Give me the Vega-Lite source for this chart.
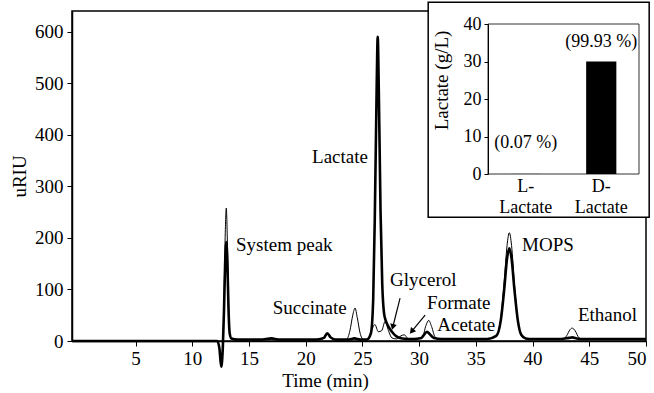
{
  "$schema": "https://vega.github.io/schema/vega-lite/v6.json",
  "width": 574,
  "height": 330,
  "autosize": {"type": "none"},
  "padding": {"left": 72, "top": 11, "right": 8, "bottom": 52},
  "background": "white",
  "config": {
    "font": "Times New Roman, Liberation Serif, DejaVu Serif, serif",
    "view": {"stroke": "black", "strokeWidth": 1.5},
    "axis": {
      "grid": false,
      "domainColor": "black",
      "domainWidth": 1.5,
      "tickColor": "black",
      "tickWidth": 1,
      "labelColor": "black",
      "titleColor": "black",
      "labelFont": "Times New Roman, Liberation Serif, DejaVu Serif, serif",
      "titleFont": "Times New Roman, Liberation Serif, DejaVu Serif, serif",
      "titleFontWeight": "normal"
    },
    "text": {"font": "Times New Roman, Liberation Serif, DejaVu Serif, serif", "color": "black"}
  },
  "datasets": {
    "chrom": [
      {"s": "k", "t": -0.6, "v": 0}, {"s": "k", "t": 5, "v": 0}, {"s": "k", "t": 10, "v": 0}, {"s": "k", "t": 12.2, "v": 0},
      {"s": "k", "t": 12.4, "v": -15}, {"s": "k", "t": 12.55, "v": -50}, {"s": "k", "t": 12.7, "v": -10},
      {"s": "k", "t": 12.8, "v": 60}, {"s": "k", "t": 12.9, "v": 150}, {"s": "k", "t": 13.0, "v": 192},
      {"s": "k", "t": 13.1, "v": 150}, {"s": "k", "t": 13.2, "v": 60}, {"s": "k", "t": 13.3, "v": 15},
      {"s": "k", "t": 13.45, "v": 5}, {"s": "k", "t": 14, "v": 3}, {"s": "k", "t": 16, "v": 3},
      {"s": "k", "t": 17, "v": 5}, {"s": "k", "t": 17.6, "v": 3}, {"s": "k", "t": 21, "v": 3},
      {"s": "k", "t": 21.6, "v": 6}, {"s": "k", "t": 21.9, "v": 15}, {"s": "k", "t": 22.2, "v": 7},
      {"s": "k", "t": 22.6, "v": 3}, {"s": "k", "t": 23.8, "v": 3}, {"s": "k", "t": 24.3, "v": 5},
      {"s": "k", "t": 24.8, "v": 3}, {"s": "k", "t": 25.4, "v": 3}, {"s": "k", "t": 25.75, "v": 15},
      {"s": "k", "t": 25.95, "v": 80}, {"s": "k", "t": 26.1, "v": 250}, {"s": "k", "t": 26.25, "v": 480},
      {"s": "k", "t": 26.35, "v": 590}, {"s": "k", "t": 26.45, "v": 480}, {"s": "k", "t": 26.6, "v": 250},
      {"s": "k", "t": 26.75, "v": 110}, {"s": "k", "t": 26.9, "v": 55}, {"s": "k", "t": 27.05, "v": 40},
      {"s": "k", "t": 27.3, "v": 28}, {"s": "k", "t": 27.6, "v": 18}, {"s": "k", "t": 28.0, "v": 9},
      {"s": "k", "t": 28.5, "v": 5}, {"s": "k", "t": 29.5, "v": 4}, {"s": "k", "t": 30.2, "v": 6},
      {"s": "k", "t": 30.5, "v": 14}, {"s": "k", "t": 30.7, "v": 18}, {"s": "k", "t": 30.9, "v": 14},
      {"s": "k", "t": 31.3, "v": 6}, {"s": "k", "t": 32, "v": 4}, {"s": "k", "t": 36, "v": 4},
      {"s": "k", "t": 36.8, "v": 10}, {"s": "k", "t": 37.2, "v": 40}, {"s": "k", "t": 37.5, "v": 100},
      {"s": "k", "t": 37.75, "v": 160}, {"s": "k", "t": 37.95, "v": 180}, {"s": "k", "t": 38.15, "v": 160},
      {"s": "k", "t": 38.4, "v": 100}, {"s": "k", "t": 38.7, "v": 40}, {"s": "k", "t": 39.0, "v": 12},
      {"s": "k", "t": 39.4, "v": 5}, {"s": "k", "t": 40, "v": 4}, {"s": "k", "t": 42.5, "v": 4},
      {"s": "k", "t": 43.2, "v": 6}, {"s": "k", "t": 43.5, "v": 7}, {"s": "k", "t": 43.9, "v": 5},
      {"s": "k", "t": 44.5, "v": 4}, {"s": "k", "t": 50, "v": 4},
      {"s": "n", "t": -0.6, "v": 0}, {"s": "n", "t": 12.2, "v": 0}, {"s": "n", "t": 12.4, "v": -15},
      {"s": "n", "t": 12.55, "v": -50}, {"s": "n", "t": 12.7, "v": -10}, {"s": "n", "t": 12.8, "v": 80},
      {"s": "n", "t": 12.9, "v": 200}, {"s": "n", "t": 13.0, "v": 258}, {"s": "n", "t": 13.1, "v": 190},
      {"s": "n", "t": 13.2, "v": 70}, {"s": "n", "t": 13.3, "v": 15}, {"s": "n", "t": 13.45, "v": 4},
      {"s": "n", "t": 14, "v": 2}, {"s": "n", "t": 16, "v": 2}, {"s": "n", "t": 17, "v": 4},
      {"s": "n", "t": 17.6, "v": 2}, {"s": "n", "t": 21, "v": 2}, {"s": "n", "t": 21.6, "v": 5},
      {"s": "n", "t": 21.9, "v": 13}, {"s": "n", "t": 22.2, "v": 6}, {"s": "n", "t": 22.6, "v": 2},
      {"s": "n", "t": 23.6, "v": 3}, {"s": "n", "t": 23.9, "v": 20}, {"s": "n", "t": 24.15, "v": 50},
      {"s": "n", "t": 24.35, "v": 64}, {"s": "n", "t": 24.55, "v": 45}, {"s": "n", "t": 24.8, "v": 15},
      {"s": "n", "t": 25.1, "v": 3}, {"s": "n", "t": 25.5, "v": 3}, {"s": "n", "t": 25.8, "v": 20},
      {"s": "n", "t": 26.1, "v": 32}, {"s": "n", "t": 26.4, "v": 18}, {"s": "n", "t": 26.7, "v": 20},
      {"s": "n", "t": 27.0, "v": 38}, {"s": "n", "t": 27.3, "v": 20}, {"s": "n", "t": 27.6, "v": 6},
      {"s": "n", "t": 28.0, "v": 4}, {"s": "n", "t": 28.4, "v": 10}, {"s": "n", "t": 28.7, "v": 12},
      {"s": "n", "t": 29.0, "v": 5}, {"s": "n", "t": 29.5, "v": 3}, {"s": "n", "t": 30.3, "v": 8},
      {"s": "n", "t": 30.6, "v": 30}, {"s": "n", "t": 30.85, "v": 40}, {"s": "n", "t": 31.1, "v": 28},
      {"s": "n", "t": 31.4, "v": 8}, {"s": "n", "t": 31.8, "v": 3}, {"s": "n", "t": 36, "v": 3},
      {"s": "n", "t": 36.8, "v": 10}, {"s": "n", "t": 37.2, "v": 45}, {"s": "n", "t": 37.5, "v": 115},
      {"s": "n", "t": 37.75, "v": 185}, {"s": "n", "t": 37.95, "v": 210}, {"s": "n", "t": 38.15, "v": 185},
      {"s": "n", "t": 38.4, "v": 110}, {"s": "n", "t": 38.7, "v": 40}, {"s": "n", "t": 39, "v": 12},
      {"s": "n", "t": 39.4, "v": 4}, {"s": "n", "t": 40, "v": 3}, {"s": "n", "t": 42.6, "v": 3},
      {"s": "n", "t": 43.0, "v": 10}, {"s": "n", "t": 43.3, "v": 22}, {"s": "n", "t": 43.5, "v": 25},
      {"s": "n", "t": 43.75, "v": 20}, {"s": "n", "t": 44.1, "v": 6}, {"s": "n", "t": 44.5, "v": 3},
      {"s": "n", "t": 50, "v": 3}
    ],
    "labels": [
      {"label": "Lactate", "t": 20.56, "v": 357},
      {"label": "System peak", "t": 13.86, "v": 186},
      {"label": "Succinate", "t": 17.1, "v": 64},
      {"label": "Glycerol", "t": 27.44, "v": 118},
      {"label": "Formate", "t": 30.7, "v": 74},
      {"label": "Acetate", "t": 31.6, "v": 31},
      {"label": "MOPS", "t": 39.08, "v": 186},
      {"label": "Ethanol", "t": 44.0, "v": 50}
    ],
    "arrows": [
      {"name": "Glycerol", "t1": 28.32, "v1": 83, "t2": 27.7, "v2": 29},
      {"name": "Formate", "t1": 30.53, "v1": 50, "t2": 29.4, "v2": 20}
    ],
    "inset": [
      {"type": "L- Lactate", "g": 0.02, "pct": "(0.07 %)", "ly": 8.2},
      {"type": "D- Lactate", "g": 30, "pct": "(99.93 %)", "ly": 35.1}
    ]
  },
  "layer": [
    {
      "layer": [
        {
          "data": {"name": "chrom"},
          "transform": [{"filter": "datum.s === 'n'"}],
          "mark": {"type": "line", "color": "black", "strokeWidth": 1, "interpolate": "monotone", "clip": false},
          "encoding": {
            "x": {
              "field": "t", "type": "quantitative",
              "scale": {"domain": [-0.6, 50], "nice": false, "zero": false},
              "axis": {
                "title": "Time (min)", "values": [5, 10, 15, 20, 25, 30, 35, 40, 45, 50],
                "labelFontSize": 19, "titleFontSize": 19, "tickSize": 5, "labelPadding": 3,
                "titlePadding": 3, "titleX": 253, "labelFlush": 8
              }
            },
            "y": {
              "field": "v", "type": "quantitative",
              "scale": {"domain": [0, 640], "nice": false, "zero": false},
              "axis": {
                "title": "uRIU", "values": [0, 100, 200, 300, 400, 500, 600],
                "labelFontSize": 19, "titleFontSize": 19, "tickSize": 5, "labelPadding": 4,
                "titlePadding": 5
              }
            }
          }
        },
        {
          "data": {"name": "chrom"},
          "transform": [{"filter": "datum.s === 'k'"}],
          "mark": {"type": "line", "color": "black", "strokeWidth": 2.6, "interpolate": "monotone", "clip": false},
          "encoding": {
            "x": {"field": "t", "type": "quantitative"},
            "y": {"field": "v", "type": "quantitative"}
          }
        },
        {
          "data": {"name": "arrows"},
          "mark": {"type": "rule", "color": "black", "strokeWidth": 1.2},
          "encoding": {
            "x": {"field": "t1", "type": "quantitative"},
            "y": {"field": "v1", "type": "quantitative"},
            "x2": {"field": "t2"},
            "y2": {"field": "v2"}
          }
        },
        {
          "data": {"name": "arrows"},
          "transform": [{"calculate": "atan2((datum.t2 - datum.t1) * 11.344, (datum.v2 - datum.v1) * 0.5156) * 180 / PI", "as": "ang"}],
          "mark": {"type": "point", "shape": "triangle", "filled": true, "color": "black", "size": 45, "opacity": 1},
          "encoding": {
            "x": {"field": "t2", "type": "quantitative"},
            "y": {"field": "v2", "type": "quantitative"},
            "angle": {"field": "ang", "type": "quantitative", "scale": null}
          }
        },
        {
          "data": {"name": "labels"},
          "mark": {"type": "text", "align": "left", "baseline": "middle", "fontSize": 19, "color": "black"},
          "encoding": {
            "x": {"field": "t", "type": "quantitative"},
            "y": {"field": "v", "type": "quantitative"},
            "text": {"field": "label"}
          }
        },
        {
          "data": {"values": [{}]},
          "mark": {"type": "rect", "fill": "white", "stroke": "black", "strokeWidth": 1.5, "clip": false},
          "encoding": {
            "x": {"datum": 30.8, "type": "quantitative"},
            "x2": {"datum": 50.28},
            "y": {"datum": 240, "type": "quantitative"},
            "y2": {"datum": 657}
          }
        }
      ]
    },
    {
      "layer": [
        {
          "data": {"values": [{}]},
          "mark": {"type": "rect", "fill": null, "stroke": "#333", "strokeWidth": 1, "clip": false},
          "encoding": {
            "x": {"datum": 0, "type": "quantitative", "scale": {"domain": [0, 1], "range": [416, 567], "nice": false}, "axis": null},
            "x2": {"datum": 1},
            "y": {"datum": 0, "type": "quantitative"},
            "y2": {"datum": 40}
          }
        },
        {
          "layer": [
            {
              "data": {"name": "inset"},
              "mark": {"type": "bar", "color": "black", "clip": false},
              "encoding": {
                "x": {
                  "field": "type", "type": "nominal", "sort": ["L- Lactate", "D- Lactate"],
                  "scale": {"domain": ["L- Lactate", "D- Lactate"], "range": [416, 567], "paddingInner": 0.6, "paddingOuter": 0.3},
                  "axis": {
                    "orient": "bottom", "offset": -167, "title": null, "ticks": false, "domain": false,
                    "labelAngle": 0, "labelFontSize": 18, "labelPadding": 3, "labelLineHeight": 21,
                    "labelBaseline": "top", "labelExpr": "split(datum.label, ' ')", "zindex": 2
                  }
                },
                "y": {
                  "field": "g", "type": "quantitative",
                  "scale": {"domain": [0, 40], "range": [163, 13], "nice": false, "zero": true},
                  "axis": {
                    "orient": "left", "offset": -416, "title": "Lactate  (g/L)",
                    "values": [0, 10, 20, 30, 40], "labelFontSize": 18, "titleFontSize": 19,
                    "tickSize": 4, "labelPadding": 3, "titlePadding": 12, "titleY": 69,
                    "domainWidth": 1, "zindex": 2
                  }
                }
              }
            },
            {
              "data": {"name": "inset"},
              "mark": {"type": "text", "align": "center", "baseline": "middle", "fontSize": 18, "color": "black"},
              "encoding": {
                "x": {"field": "type", "type": "nominal"},
                "y": {"field": "ly", "type": "quantitative"},
                "text": {"field": "pct"}
              }
            }
          ]
        }
      ],
      "resolve": {"scale": {"x": "independent"}}
    }
  ],
  "resolve": {"scale": {"x": "independent", "y": "independent"}}
}
